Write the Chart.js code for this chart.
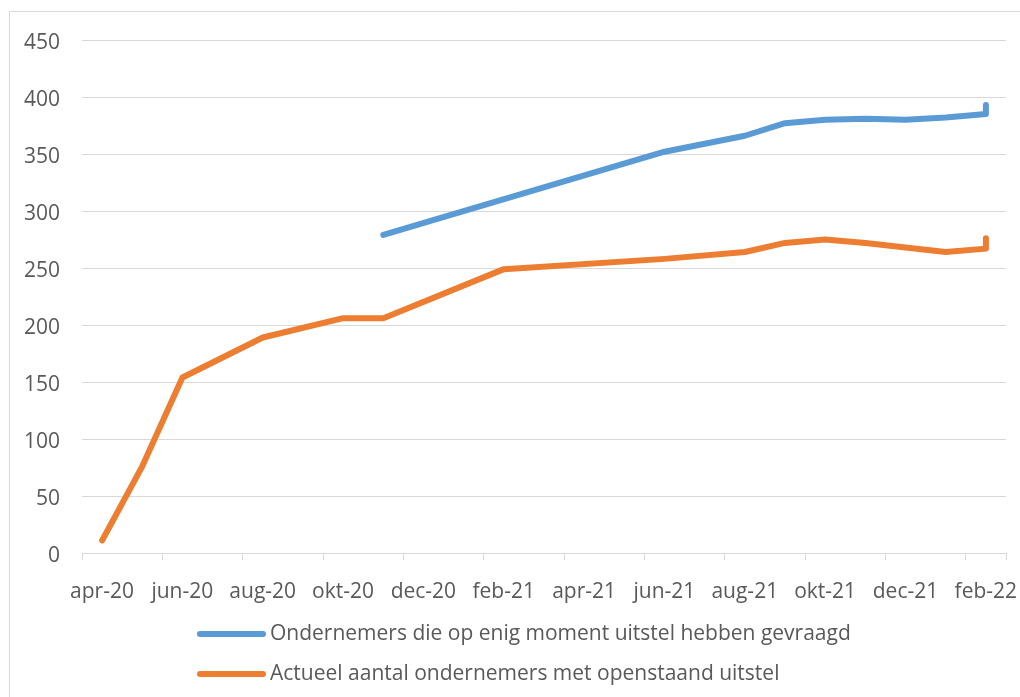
<!DOCTYPE html>
<html>
<head>
<meta charset="utf-8">
<script src="https://cdn.jsdelivr.net/npm/chart.js@4/dist/chart.umd.min.js"></script>
<style>
  body { margin: 0; background: #fff; }
  #wrap { width: 1020px; height: 697px; position: relative; }
</style>
</head>
<body>
<div id="wrap"><canvas id="myChart" width="1020" height="697"></canvas></div>
<script>
// alle maanden op de as (apr-20 t/m feb-22)
const months = ["apr-20", "mei-20", "jun-20", "jul-20", "aug-20", "sep-20", "okt-20", "nov-20",
  "dec-20", "jan-21", "feb-21", "mrt-21", "apr-21", "mei-21", "jun-21", "jul-21", "aug-21",
  "sep-21", "okt-21", "nov-21", "dec-21", "jan-22", "feb-22"];

// maanden met een meting (feb-22 komt twee keer voor)
const pointMonths = ["apr-20", "mei-20", "jun-20", "aug-20", "okt-20", "nov-20", "feb-21",
  "jun-21", "aug-21", "sep-21", "okt-21", "nov-21", "dec-21", "jan-22", "feb-22", "feb-22"];

const gevraagd = [null, null, null, null, null, 279, null, 352, 366, 377, 380, 381, 380, 382, 385, 393];
const actueel = [11, 76, 154, 189, 206, 206, 249, 258, 264, 272, 275, 272, null, 264, 267, 276];

const tickLabels = ["apr-20", "jun-20", "aug-20", "okt-20", "dec-20", "feb-21", "apr-21",
  "jun-21", "aug-21", "okt-21", "dec-21", "feb-22"];

const seriesNames = ["Ondernemers die op enig moment uitstel hebben gevraagd",
  "Actueel aantal ondernemers met openstaand uitstel"];

const FONT = "'Open Sans', sans-serif";
const textColor = "#595959";
const gridColor = "#d9d9d9";

function toPoints(values) {
  return pointMonths.map((m, i) => ({ x: months.indexOf(m) + 0.5, y: values[i] }));
}

// rand van de grafiek en legenda onderaan
const frameAndLegend = {
  id: "frameAndLegend",
  beforeDraw(chart) {
    const ctx = chart.ctx;
    ctx.save();
    ctx.strokeStyle = gridColor;
    ctx.lineWidth = 1;
    ctx.beginPath();
    ctx.moveTo(9.5, 697);
    ctx.lineTo(9.5, 11.5);
    ctx.lineTo(1020, 11.5);
    ctx.stroke();
    ctx.restore();
  },
  afterDraw(chart) {
    const ctx = chart.ctx;
    ctx.save();
    chart.data.datasets.forEach((ds, i) => {
      const y = 634 + i * 40;
      ctx.strokeStyle = ds.borderColor;
      ctx.lineWidth = 6;
      ctx.lineCap = "round";
      ctx.beginPath();
      ctx.moveTo(200, y);
      ctx.lineTo(263, y);
      ctx.stroke();
      ctx.fillStyle = textColor;
      ctx.font = "21px " + FONT;
      ctx.textBaseline = "middle";
      ctx.textAlign = "left";
      ctx.fillText(ds.label, 270, y);
    });
    ctx.restore();
  }
};

const myChart = new Chart("myChart", {
  type: "line",
  data: {
    datasets: [
      {
        label: seriesNames[0],
        data: toPoints(gevraagd),
        borderColor: "#5b9bd5",
        backgroundColor: "#5b9bd5",
        borderWidth: 6,
        pointRadius: 0,
        fill: false,
        tension: 0,
        spanGaps: true,
        borderCapStyle: "round",
        borderJoinStyle: "round"
      },
      {
        label: seriesNames[1],
        data: toPoints(actueel),
        borderColor: "#ed7d31",
        backgroundColor: "#ed7d31",
        borderWidth: 6,
        pointRadius: 0,
        fill: false,
        tension: 0,
        spanGaps: true,
        borderCapStyle: "round",
        borderJoinStyle: "round"
      }
    ]
  },
  options: {
    responsive: false,
    animation: false,
    layout: { padding: { left: 0, right: 14, top: 40, bottom: 84 } },
    plugins: {
      legend: { display: false },
      tooltip: { enabled: false }
    },
    scales: {
      x: {
        type: "linear",
        min: 0,
        max: 23,
        afterFit(scale) {
          scale.height = 60;
          scale.paddingLeft = 0;
          scale.paddingRight = 0;
        },
        afterBuildTicks(scale) {
          const t = [];
          for (let v = 0; v <= 22; v += 2) t.push({ value: v });
          t.push({ value: 23 });
          scale.ticks = t;
        },
        grid: {
          drawOnChartArea: false,
          drawTicks: true,
          tickLength: 7,
          color: gridColor
        },
        border: { display: true, color: gridColor, width: 1 },
        ticks: {
          autoSkip: false,
          maxRotation: 0,
          labelOffset: 20,
          padding: 19,
          color: textColor,
          font: { family: FONT, size: 21 },
          callback: (v) => (v % 2 === 0 && v <= 22 ? tickLabels[v / 2] : "")
        }
      },
      y: {
        min: 0,
        max: 450,
        afterFit(scale) {
          scale.width = 82;
          scale.paddingTop = 0;
          scale.paddingBottom = 0;
        },
        grid: { color: gridColor, drawTicks: false, lineWidth: 1 },
        border: { display: false },
        ticks: {
          stepSize: 50,
          padding: 22,
          labelOffset: 3,
          color: textColor,
          font: { family: FONT, size: 21 }
        }
      }
    }
  },
  plugins: [frameAndLegend]
});
</script>
</body>
</html>
